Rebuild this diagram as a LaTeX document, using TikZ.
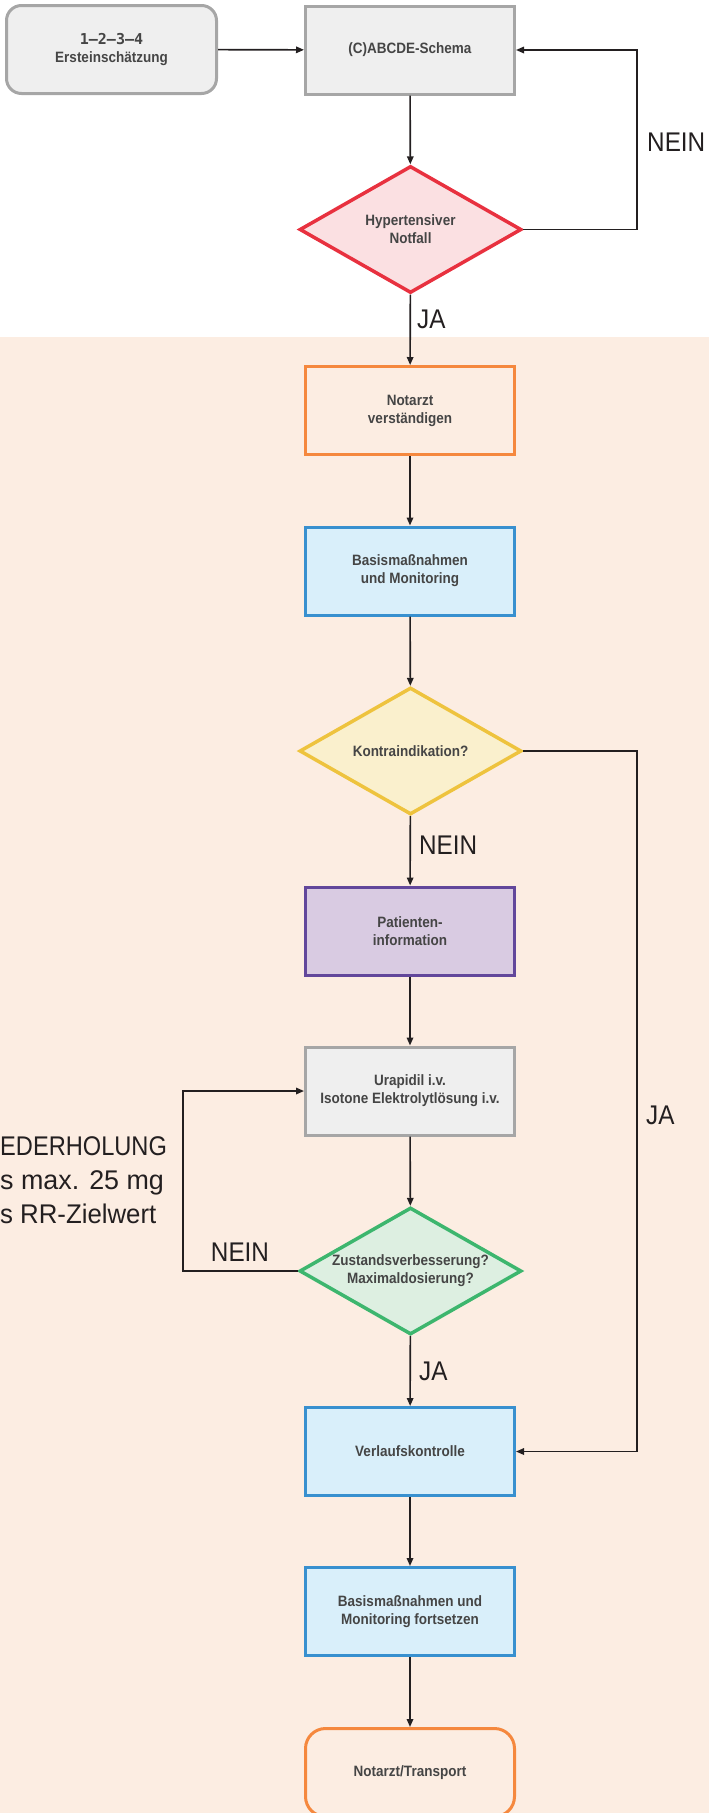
\documentclass[tikz,border=0pt]{standalone}
\usepackage{fontspec}
\setmainfont{Liberation Sans}
\newfontfamily\boxfont[FakeStretch=0.9]{Liberation Sans}
\newfontfamily\bigfont[FakeStretch=0.9]{Liberation Sans}
\newfontfamily\sidefont{Liberation Sans}
\newfontfamily\digitfont{DejaVu Sans Mono}
\usetikzlibrary{shapes.geometric,arrows.meta}
\definecolor{ink}{HTML}{231F20}
\definecolor{txtgray}{HTML}{454545}
\definecolor{bgpeach}{HTML}{FCEDE2}
\definecolor{grayfill}{HTML}{EFEFEF}
\definecolor{grayline}{HTML}{A6A6A6}
\definecolor{redline}{HTML}{E8313F}
\definecolor{redfill}{HTML}{FBE0E2}
\definecolor{orangeline}{HTML}{F5883E}
\definecolor{blueline}{HTML}{3890CF}
\definecolor{bluefill}{HTML}{D9EFFA}
\definecolor{yellowline}{HTML}{EEC33E}
\definecolor{yellowfill}{HTML}{FAF0CD}
\definecolor{purpleline}{HTML}{62479B}
\definecolor{purplefill}{HTML}{D9CBE2}
\definecolor{greenline}{HTML}{3DB66E}
\definecolor{greenfill}{HTML}{DDEFE1}
\begin{document}
\begin{tikzpicture}[x=1pt,y=-1pt,
  flow/.style={draw=ink, line width=1.6pt, -{Triangle[length=8pt,width=6.5pt]}},
  box/.style={rectangle, minimum width=209pt, minimum height=88pt, line width=3pt,
    font=\boxfont\bfseries\fontsize{15}{18}\selectfont, text=txtgray, align=center, inner sep=0pt},
  dia/.style={diamond, shape aspect=1.73, minimum width=222pt, minimum height=127pt, line width=3.5pt,
    font=\boxfont\bfseries\fontsize{15}{18}\selectfont, text=txtgray, align=center, inner sep=0pt},
  graybox/.style={box, draw=grayline, fill=grayfill},
  orangebox/.style={box, draw=orangeline},
  bluebox/.style={box, draw=blueline, fill=bluefill},
  lbl/.style={font=\bigfont\fontsize{27}{34}\selectfont, text=ink, inner sep=0pt},
  sidelbl/.style={font=\sidefont\fontsize{27}{34}\selectfont, text=ink, inner sep=0pt, anchor=base west}
]
\useasboundingbox (0,0) rectangle (709,1813);
\fill[bgpeach] (0,337) rectangle (709,1813);

% nodes
\node[graybox, rounded corners=15pt, minimum width=210pt] (erst) at (111.5,49.5)
  {{\digitfont\bfseries 1–2–3–4}\\Ersteinschätzung};
\node[graybox] (abcde) at (410,50) {(C)ABCDE-Schema};
\node[dia, draw=redline, fill=redfill] (hyp) at (410.5,229.5) {Hypertensiver\\Notfall};
\node[orangebox] (notarzt) at (410,410.5) {Notarzt\\verständigen};
\node[bluebox] (basis) at (410,571) {Basismaßnahmen\\und Monitoring};
\node[dia, draw=yellowline, fill=yellowfill] (kontra) at (410.5,751) {Kontraindikation?};
\node[box, draw=purpleline, fill=purplefill] (patient) at (410,931) {Patienten-\\information};
\node[graybox] (urapidil) at (410,1091) {Urapidil i.v.\\Isotone Elektrolytlösung i.v.};
\node[dia, draw=greenline, fill=greenfill] (zustand) at (410.5,1271) {Zustandsverbesserung?\\Maximaldosierung?};
\node[bluebox] (verlauf) at (410,1451.5) {Verlaufskontrolle};
\node[bluebox] (fort) at (410,1611.5) {Basismaßnahmen und\\Monitoring fortsetzen};
\node[orangebox, rounded corners=20pt] (transport) at (410,1772.5) {Notarzt/Transport};

% helper coordinates
\coordinate (r1) at (637,50);
\coordinate (r2) at (637,1451.5);
\coordinate (l1) at (183,1091);

% connectors
\draw[flow] (erst) -- (abcde);
\draw[flow] (abcde) -- (hyp);
\draw[flow] (hyp.east) -| (r1) -- (abcde.east);
\draw[flow] (hyp) -- (notarzt);
\draw[flow] (notarzt) -- (basis);
\draw[flow] (basis) -- (kontra);
\draw[flow] (kontra) -- (patient);
\draw[flow] (kontra.east) -| (r2) -- (verlauf.east);
\draw[flow] (patient) -- (urapidil);
\draw[flow] (urapidil) -- (zustand);
\draw[flow] (zustand.west) -| (l1) -- (urapidil.west);
\draw[flow] (zustand) -- (verlauf);
\draw[flow] (verlauf) -- (fort);
\draw[flow] (fort) -- (transport);

% labels
\node[lbl, anchor=west] (nein1) at (647,142) {NEIN};
\node[lbl, anchor=west] (ja1) at (417,319) {JA};
\node[lbl, anchor=west] (nein2) at (419,845) {NEIN};
\node[lbl, anchor=west] (ja2) at (646,1115) {JA};
\node[lbl] (nein3) at (240,1252) {NEIN};
\node[lbl, anchor=west] (ja3) at (419,1371) {JA};
\node[sidelbl] (w1) at (0,1155) {\scalebox{0.875}[1]{EDERHOLUNG}};
\node[sidelbl] (w2) at (0,1189) {\scalebox{0.995}[1]{s max. 25 mg}};
\node[sidelbl] (w3) at (0,1223) {\scalebox{0.955}[1]{s RR-Zielwert}};
\end{tikzpicture}
\end{document}
